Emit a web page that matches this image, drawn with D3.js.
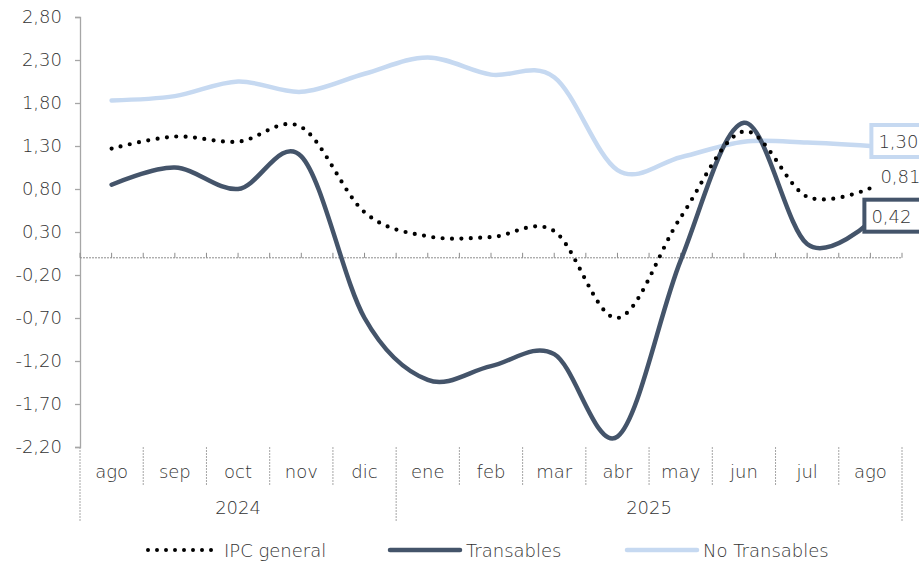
<!DOCTYPE html>
<html><head><meta charset="utf-8">
<script src="https://cdn.jsdelivr.net/npm/d3@7"></script>
<style>
body{margin:0;background:#fff;}
text{font-family:"DejaVu Sans",sans-serif;font-weight:200;fill:#333;}
</style></head>
<body><svg id="c" width="919" height="562"></svg>
<script>
const months = ["ago","sep","oct","nov","dic","ene","feb","mar","abr","may","jun","jul","ago"];
const years = [{label:"2024", from:0, to:5},{label:"2025", from:5, to:13}];
const ipc = [1.27,1.41,1.35,1.52,0.53,0.25,0.24,0.31,-0.70,0.47,1.47,0.71,0.81];
const transables = [0.85,1.05,0.80,1.18,-0.70,-1.42,-1.26,-1.12,-2.08,-0.03,1.57,0.16,0.42];
const noTransables = [1.83,1.88,2.05,1.93,2.14,2.33,2.13,2.10,1.02,1.17,1.35,1.34,1.30];
const yTicks = [2.8,2.3,1.8,1.3,0.8,0.3,-0.2,-0.7,-1.2,-1.7,-2.2];
const seriesNames = ["IPC general","Transables","No Transables"];

const FONT = '"DejaVu Sans",sans-serif', FS = 18;
const svg = d3.select("#c");
const L=80, R=902, T=17, B=447;
const x = d3.scaleBand().domain(d3.range(months.length)).range([L,R]).padding(0);
const xc = i => x(i)+x.bandwidth()/2;
const y = d3.scaleLinear().domain([-2.2,2.8]).range([B,T]);
const fmt = v => d3.format(".2f")(v).replace(".",",").replace("\u2212","-");
const axisCol="#a6a6a6";

// Y axis
const yAxis = d3.axisLeft(y).tickValues(yTicks).tickSize(5).tickPadding(13).tickFormat(fmt);
const gy = svg.append("g").attr("transform",`translate(${L},0)`).call(yAxis);
gy.select(".domain").attr("stroke",axisCol).attr("stroke-width",1.3);
gy.selectAll(".tick line").attr("stroke",axisCol).attr("stroke-width",1.3);
gy.selectAll(".tick text").attr("font-size",FS).attr("font-family",FONT).attr("font-weight",200).attr("fill","#333");

// zero line with minor ticks
svg.append("line").attr("x1",L).attr("x2",R).attr("y1",y(0)).attr("y2",y(0))
  .attr("stroke","#8c8c8c").attr("stroke-width",1).attr("stroke-dasharray","2 1");
const halfTicks = d3.range(months.length*2+1).map(k=>L+k*x.bandwidth()/2);
svg.append("g").selectAll("line").data(halfTicks).join("line")
  .attr("x1",d=>d).attr("x2",d=>d).attr("y1",y(0)-5).attr("y2",y(0))
  .attr("stroke","#8c8c8c").attr("stroke-width",1);

// bottom category separators
const yearBounds = new Set(years.flatMap(d=>[d.from,d.to]));
svg.append("g").selectAll("line").data(d3.range(0,months.length+1)).join("line")
  .attr("x1",i=>i===months.length?R:x(i)).attr("x2",i=>i===months.length?R:x(i))
  .attr("y1",B).attr("y2",i=>yearBounds.has(i)?522:486)
  .attr("stroke","#a6a6a6").attr("stroke-width",1).attr("stroke-dasharray","2 1");

svg.append("g").selectAll("text").data(months).join("text")
  .attr("x",(d,i)=>xc(i)).attr("y",478).attr("text-anchor","middle").attr("font-size",FS).text(d=>d);
svg.append("g").selectAll("text").data(years).join("text")
  .attr("x",d=>(x(d.from)+(d.to>=months.length?R:x(d.to)))/2).attr("y",514)
  .attr("text-anchor","middle").attr("font-size",FS).text(d=>d.label);

// lines
const line = d3.line().x((d,i)=>xc(i)).y(d=>y(d)).curve(d3.curveCardinal.tension(0));
const colDark="#44546a", colLight="#c6d9f1";
svg.append("path").attr("d",line(noTransables)).attr("fill","none").attr("stroke",colLight).attr("stroke-width",4.5).attr("stroke-linecap","round");
svg.append("path").attr("d",line(transables)).attr("fill","none").attr("stroke",colDark).attr("stroke-width",4.5).attr("stroke-linecap","round");
svg.append("path").attr("d",line(ipc)).attr("fill","none").attr("stroke","#000").attr("stroke-width",4.2)
  .attr("stroke-linecap","round").attr("stroke-dasharray","0 9.4");

// end labels
const last = months.length-1;
function boxLabel(v,col,dx,dy,w){
  const bx = xc(last)+dx, by = y(v)+dy;
  svg.append("rect").attr("x",bx).attr("y",by).attr("width",w).attr("height",32)
    .attr("fill","#fff").attr("stroke",col).attr("stroke-width",4);
  svg.append("text").attr("x",bx+7).attr("y",by+23).attr("font-size",FS).text(fmt(v));
}
boxLabel(noTransables[last],colLight,1,-21,70);
svg.append("text").attr("x",xc(last)+10).attr("y",y(ipc[last])-5).attr("font-size",FS).text(fmt(ipc[last]));
boxLabel(transables[last],colDark,-6,-22,70);

// legend
const leg = [{n:seriesNames[0],x:148,col:"#000",dash:"0 9",w:4},{n:seriesNames[1],x:390,col:colDark,dash:null,w:4.5},{n:seriesNames[2],x:627,col:colLight,dash:null,w:4.5}];
const lg = svg.append("g");
leg.forEach(d=>{
  lg.append("line").attr("x1",d.x).attr("x2",d.x+70).attr("y1",550).attr("y2",550)
    .attr("stroke",d.col).attr("stroke-width",d.w).attr("stroke-linecap","round")
    .attr("stroke-dasharray",d.dash);
  lg.append("text").attr("x",d.x+76).attr("y",557).attr("font-size",FS).text(d.n);
});
</script></body></html>
